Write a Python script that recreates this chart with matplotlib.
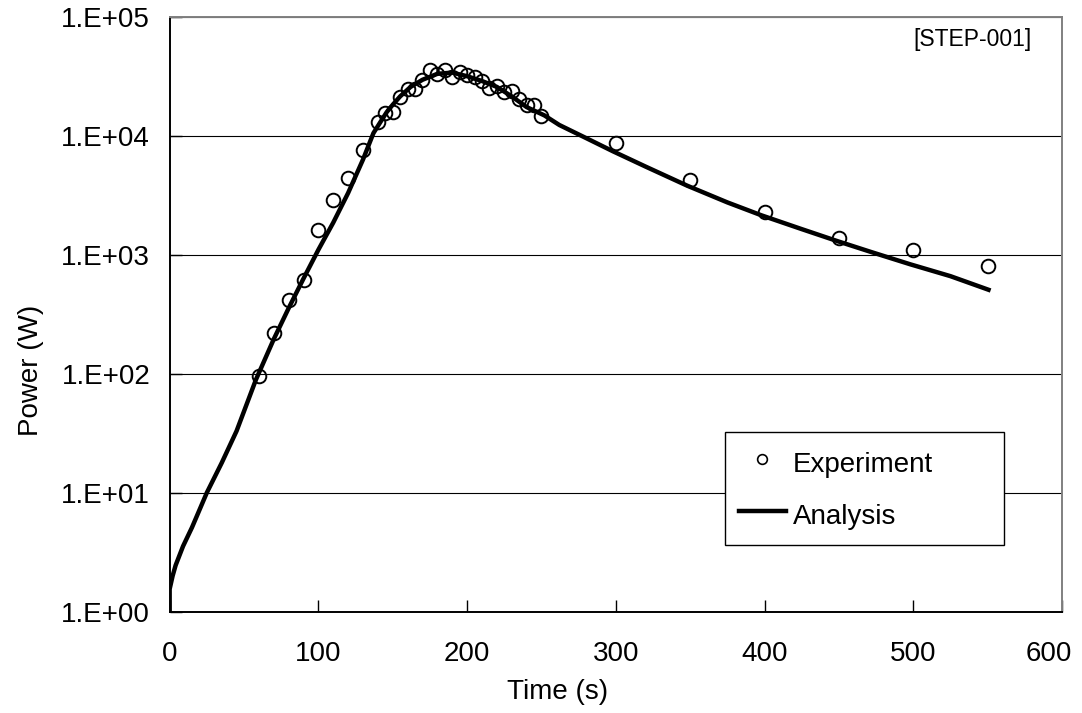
import numpy as np
import matplotlib.pyplot as plt
from matplotlib.lines import Line2D
from matplotlib.ticker import FixedLocator, FuncFormatter
from matplotlib.transforms import ScaledTranslation

plt.rcParams['font.family'] = ['Liberation Sans', 'DejaVu Sans']

# Experiment points
exp_time = [60, 70, 80, 90, 100, 110, 120, 130, 140, 145, 150, 155, 160, 165,
            170, 175, 180, 185, 190, 195, 200, 205, 210, 215, 220, 225, 230,
            235, 240, 245, 250, 300, 350, 400, 450, 500, 550]
exp_power = [96, 220, 415, 615, 1610, 2880, 4380, 7600, 13100, 15500, 15700,
             21300, 24600, 24600, 29300, 35600, 33000, 35600, 31400, 34400,
             32600, 31400, 28900, 25400, 26200, 23300, 23900, 20400, 18100,
             18100, 14600, 8700, 4250, 2300, 1390, 1090, 805]

# Analysis curve
ana_time = [0, 0, 2, 4, 9, 15, 25, 35, 45, 58, 70, 80, 90, 100, 110, 120, 130,
            137, 142, 146, 150, 155, 162, 170, 180, 190, 200, 210, 220, 230,
            240, 252, 262, 280, 298, 320, 348, 375, 398, 425, 449, 472, 498,
            525, 552]
ana_power = [1.0, 1.55, 2.0, 2.45, 3.55, 5.1, 10, 17.8, 33, 89, 195, 355, 630,
             1100, 1860, 3300, 6300, 10500, 13200, 15800, 18200, 21400, 25700,
             29500, 33100, 33900, 31600, 28800, 25700, 21400, 17400, 14800,
             12300, 9550, 7400, 5500, 3800, 2750, 2140, 1640, 1300, 1050, 830,
             660, 500]

x_ticks = [0, 100, 200, 300, 400, 500, 600]
y_ticks = [1e0, 1e1, 1e2, 1e3, 1e4, 1e5]

fig = plt.figure(figsize=(10.82, 7.13), dpi=100)
ax = fig.add_axes([0.1568, 0.1421, 0.8247, 0.8345])

ax.set_yscale('log')
ax.set_xlim(0, 600)
ax.set_ylim(1, 1e5)

ax.plot(ana_time, ana_power, color='black', linewidth=3.2, solid_capstyle='butt', zorder=3)
ax.plot(exp_time, exp_power, linestyle='none', marker='o', markersize=9.8,
        markerfacecolor='none', markeredgecolor='black', markeredgewidth=1.4, zorder=4)

# gridlines only on the y axis, like the original
ax.yaxis.set_major_locator(FixedLocator(y_ticks))
ax.yaxis.set_minor_locator(FixedLocator([]))
ax.yaxis.set_major_formatter(FuncFormatter(lambda v, p: '1.E+%02d' % int(round(np.log10(v)))))
ax.set_xticks(x_ticks)
ax.grid(axis='y', color='black', linewidth=0.8)
ax.set_axisbelow(True)

ax.tick_params(axis='both', direction='in', length=8.5, width=1.0, labelsize=20, color='black')
ax.tick_params(axis='y', pad=14)
ax.tick_params(axis='x', pad=21)

for side in ['left', 'bottom']:
    ax.spines[side].set_color('black')
    ax.spines[side].set_linewidth(1.4)
for side in ['top', 'right']:
    ax.spines[side].set_color('#808080')
    ax.spines[side].set_linewidth(1.4)

# Excel pulls the last x label in so it is not cut off
last = ax.get_xticklabels()[-1]
last.set_transform(last.get_transform() + ScaledTranslation(-0.13, 0, fig.dpi_scale_trans))

ax.set_xlabel('Time (s)', fontsize=20)
ax.set_ylabel('Power (W)', fontsize=20)
ax.xaxis.set_label_coords(0.435, -0.113)
ax.yaxis.set_label_coords(-0.141, 0.405)

ax.text(0.833, 0.961, '[STEP-001]', transform=ax.transAxes, fontsize=16.5,
        ha='left', va='center')

handles = [
    Line2D([], [], linestyle='none', marker='o', markersize=7, markerfacecolor='none',
           markeredgecolor='black', markeredgewidth=1.2),
    Line2D([], [], color='black', linewidth=3.2),
]
leg = ax.legend(handles, ['Experiment', 'Analysis'], loc='upper left',
                bbox_to_anchor=(0.6223, 0, 0.3127, 0.302), mode='expand',
                borderaxespad=0, fontsize=20, frameon=True, fancybox=False,
                framealpha=1, edgecolor='black', borderpad=0.5,
                labelspacing=0.7, handlelength=1.7, handleheight=1.45,
                handletextpad=0.25)
leg.get_frame().set_linewidth(1.0)

fig.savefig('out.png', dpi=100)
